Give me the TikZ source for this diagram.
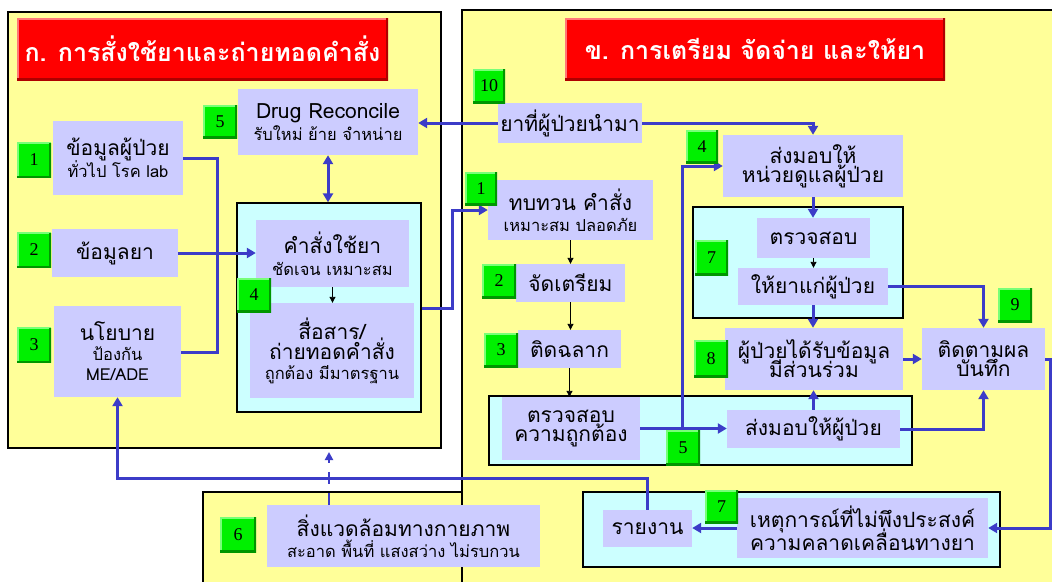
\documentclass[tikz,border=0pt]{standalone}
\usepackage{fontspec}
\setmainfont[Script=Thai]{Loma}
\newfontfamily\numfont{Liberation Serif}
\usetikzlibrary{arrows.meta}
\definecolor{panelY}{RGB}{255,255,153}
\definecolor{lav}{RGB}{204,204,255}
\definecolor{cyanB}{RGB}{204,255,255}
\definecolor{gbox}{RGB}{0,240,0}
\definecolor{glight}{RGB}{120,255,120}
\definecolor{gdark}{RGB}{0,150,0}
\definecolor{blueL}{RGB}{60,60,200}
\definecolor{redT}{RGB}{255,0,0}
\definecolor{redL}{RGB}{255,120,120}
\definecolor{redD}{RGB}{175,0,0}
\newcommand{\MyMain}{\fontsize{21}{24}\selectfont}
\newcommand{\MySub}{\fontsize{16.5}{20}\selectfont}
\tikzset{
 wh/.style 2 args={minimum width=#1,minimum height=#2},
 gnum/.style={fill=gbox, inner sep=0pt, font=\numfont\fontsize{18}{18}\selectfont,
   path picture={
   \draw[glight, line width=3.5pt] (path picture bounding box.south west) -- (path picture bounding box.north west) -- (path picture bounding box.north east);
   \draw[gdark, line width=3.5pt] (path picture bounding box.north east) -- (path picture bounding box.south east) -- (path picture bounding box.south west);}},
 titlebox/.style={fill=redT, text=white, font=\bfseries\fontsize{25}{30}\selectfont, inner sep=0pt,
   path picture={
   \draw[redL, line width=4pt] (path picture bounding box.south west) -- (path picture bounding box.north west) -- (path picture bounding box.north east);
   \draw[redD, line width=4pt] (path picture bounding box.north east) -- (path picture bounding box.south east) -- (path picture bounding box.south west);}},
 lavbox/.style={fill=lav, inner sep=0pt, align=center, text=black, font=\MyMain},
 panel/.style={fill=panelY, draw=black, line width=1.3pt},
 cbox/.style={fill=cyanB, draw=black, line width=1.3pt},
 bl/.style={draw=blueL, line width=3pt},
 barr/.style={bl, -{Triangle[length=9pt,width=10pt]}},
 karr/.style={draw=black, line width=0.9pt, -{Triangle[length=6pt,width=6pt]}},
}
\begin{document}
\begin{tikzpicture}[x=1pt,y=-1pt]
\useasboundingbox (0,0) rectangle (1052,581);
\fill[white] (0,0) rectangle (1052,581);
% panels
\node[panel, wh={433}{436}] (leftP) at (224.5,230) {};
\node[panel, wh={600}{580}] (rightP) at (762,300) {};
\node[panel, wh={259}{100}] (botP) at (332.5,542) {};
% cyan groups
\node[cbox, wh={184}{209}] (cyanL) at (329,307.5) {};
\node[cbox, wh={210}{111}] (cyanS) at (798,262.5) {};
\node[cbox, wh={423}{69}] (cyanD) at (700.5,430.5) {};
\node[cbox, wh={417}{75}] (cyanE) at (791.5,529.5) {};
% titles
\node[titlebox, wh={371}{62}] (titleL) at (202.5,49) {ก. การสั่งใช้ยาและถ่ายทอดคำสั่ง};
\node[titlebox, wh={380}{62}] (titleR) at (755,49) {ข. การเตรียม จัดจ่าย และให้ยา};
% left nodes
\node[lavbox, wh={180}{66}] (dr) at (328,122) {Drug Reconcile\\[-2pt]{\MySub รับใหม่ ย้าย จำหน่าย}};
\node[lavbox, wh={130}{74}] (pi) at (118,158) {ข้อมูลผู้ป่วย\\[-2pt]{\MySub ทั่วไป โรค lab}};
\node[lavbox, wh={126}{48}] (di) at (115,253) {ข้อมูลยา};
\node[lavbox, wh={127}{91}] (po) at (117.5,351.5) {นโยบาย\\[-4pt]{\MySub ป้องกัน}\\[-4pt]{\MySub ME/ADE}};
\node[lavbox, wh={153}{67}] (or) at (332.5,253.5) {คำสั่งใช้ยา\\[-2pt]{\MySub ชัดเจน เหมาะสม}};
\node[lavbox, wh={164}{95}] (co) at (332,350.5) {สื่อสาร/\\[-4pt]ถ่ายทอดคำสั่ง\\[-4pt]{\MySub ถูกต้อง มีมาตรฐาน}};
% right nodes
\node[lavbox, wh={144}{40}] (br) at (570,123) {ยาที่ผู้ป่วยนำมา};
\node[lavbox, wh={180}{62}] (hw) at (813,166) {ส่งมอบให้\\[-5pt]หน่วยดูแลผู้ป่วย};
\node[lavbox, wh={165}{60}] (rv) at (570.5,210) {ทบทวน คำสั่ง\\[-3pt]{\MySub เหมาะสม ปลอดภัย}};
\node[lavbox, wh={109}{38}] (pp) at (570.5,283) {จัดเตรียม};
\node[lavbox, wh={103}{38}] (lb) at (569.5,349) {ติดฉลาก};
\node[lavbox, wh={138}{63}] (vc) at (571,428.5) {ตรวจสอบ\\[-5pt]ความถูกต้อง};
\node[lavbox, wh={173}{38}] (dp) at (813.5,429) {ส่งมอบให้ผู้ป่วย};
\node[lavbox, wh={113}{40}] (ck) at (813.5,238) {ตรวจสอบ};
\node[lavbox, wh={150}{37}] (ga) at (813,286.5) {ให้ยาแก่ผู้ป่วย};
\node[lavbox, wh={178}{62}] (pr) at (814,359) {ผู้ป่วยได้รับข้อมูล\\[-5pt]มีส่วนร่วม};
\node[lavbox, wh={123}{62}] (fu) at (983.5,359) {ติดตามผล\\[-5pt]บันทึก};
\node[lavbox, wh={89}{37}] (rp) at (647.5,528.5) {รายงาน};
\node[lavbox, wh={251}{60}] (ev) at (862.5,528) {เหตุการณ์ที่ไม่พึงประสงค์\\[-5pt]ความคลาดเคลื่อนทางยา};
\node[lavbox, wh={273}{62}] (en) at (403.5,536) {สิ่งแวดล้อมทางกายภาพ\\[-3pt]{\MySub สะอาด พื้นที่ แสงสว่าง ไม่รบกวน}};
% junction coordinates
\coordinate (jL) at (217,352);
\coordinate (kL) at (452,308);
\coordinate (rE) at (1050,359);
\coordinate (jB) at (117.5,478);
\coordinate (jV) at (682,429);
\coordinate (dA) at (329,452);
% connectors
\draw[bl] (pi.east) -| (jL) -- (po.east |- jL);
\draw[barr] (di.east) -- (or.west |- di.east);
\draw[bl, {Triangle[length=9pt,width=10pt]}-{Triangle[length=9pt,width=10pt]}] (dr.south) -- (cyanL.north -| dr.south);
\draw[barr] (kL -| cyanL.east) -- (kL) |- (rv.west);
\draw[barr] (br.west) -- (dr.east |- br.west);
\draw[barr] (br.east) -| (hw.north);
\draw[barr] (hw.south) -- (ck.north -| hw.south);
\draw[karr] (ck.south) -- (ga.north -| ck.south);
\draw[barr] (ga.east) -| (fu.north);
\draw[barr] (ga.south) -- (pr.north -| ga.south);
\draw[barr] (pr.east) -- (fu.west);
\draw[barr] (fu.east) -- (rE) |- (ev.east);
\draw[barr] (ev.west) -- (rp.east |- ev.west);
\draw[barr] (rp.north) |- (jB) -- (po.south);
\draw[karr] (rv.south) -- (rv.south |- pp.north);
\draw[karr] (pp.south) -- (pp.south |- lb.north);
\draw[karr] (lb.south) -- (lb.south |- vc.north);
\draw[barr] (vc.east) -- (dp.west |- vc.east);
\draw[barr] (jV) |- (hw.west);
\draw[barr] (dp.north) -- (pr.south -| dp.north);
\draw[barr] (dp.east) -| (fu.south);
\draw[karr] (or.south) -- (co.north -| or.south);
\draw[draw=blueL, line width=2.2pt, dash pattern=on 12pt off 9pt, -{Triangle[length=8pt,width=8pt]}] (dA |- en.north) -- (dA);
% green number boxes
\node[gnum, wh={34}{33}] (g5L) at (220,121.5) {5};
\node[gnum, wh={34}{35}] (g1L) at (34,160) {1};
\node[gnum, wh={34}{35}] (g2L) at (34,250) {2};
\node[gnum, wh={34}{35}] (g3L) at (34,345) {3};
\node[gnum, wh={34}{34}] (g4L) at (254,295) {4};
\node[gnum, wh={32}{34}] (g10) at (489,86) {10};
\node[gnum, wh={32}{33}] (g4R) at (702,146.5) {4};
\node[gnum, wh={33}{35}] (g7R) at (711.5,257.5) {7};
\node[gnum, wh={34}{37}] (g8) at (711,358.5) {8};
\node[gnum, wh={34}{34}] (g9) at (1015,305) {9};
\node[gnum, wh={32}{33}] (g1R) at (481,188.5) {1};
\node[gnum, wh={34}{34}] (g2R) at (499,281) {2};
\node[gnum, wh={34}{34}] (g3R) at (501,350) {3};
\node[gnum, wh={34}{35}] (g5R) at (683,447.5) {5};
\node[gnum, wh={33}{33}] (g7b) at (721.5,506.5) {7};
\node[gnum, wh={36}{35}] (g6) at (238,534.5) {6};
\end{tikzpicture}
\end{document}
